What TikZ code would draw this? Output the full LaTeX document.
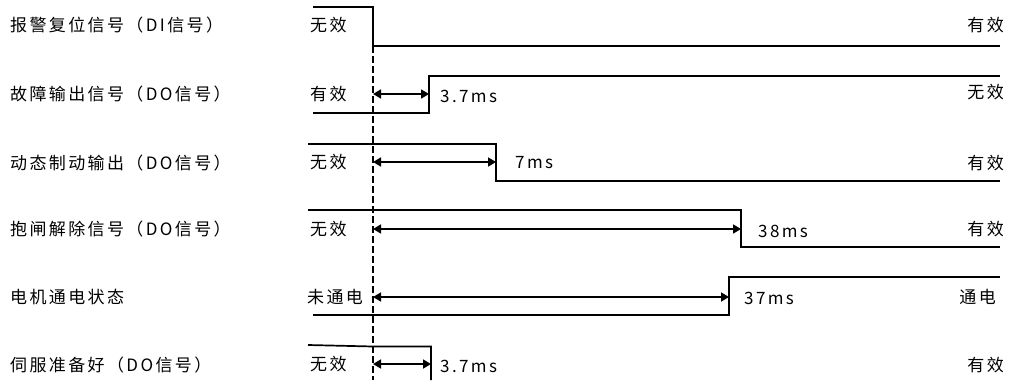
\documentclass[tikz,border=0pt]{standalone}
\usepackage{fontspec}
\setmainfont{Noto Sans CJK SC}
\usetikzlibrary{arrows.meta}
\begin{document}
\begin{tikzpicture}[x=1pt,y=-1pt,
  sig/.style={line width=1.7pt,line join=miter},
  dim/.style={line width=1.7pt,{Triangle[length=8pt,width=9pt]}-{Triangle[length=8pt,width=9pt]}},
  lbl/.style={font=\fontsize{17}{19}\selectfont\addfontfeature{LetterSpace=14},inner sep=0pt},
  st/.style={font=\fontsize{17}{19}\selectfont\addfontfeature{LetterSpace=14},inner sep=0pt},
  ms/.style={font=\fontsize{17}{19}\selectfont\addfontfeature{LetterSpace=14},inner sep=0pt,anchor=west}]
\useasboundingbox (0,0) rectangle (1011,380);
% left labels
\node[lbl,anchor=west] (l1) at (10,25) {报警复位信号（DI信号）};
\node[lbl,anchor=west] (l2) at (10,94) {故障输出信号（DO信号）};
\node[lbl,anchor=west] (l3) at (10,163) {动态制动输出（DO信号）};
\node[lbl,anchor=west] (l4) at (10,229) {抱闸解除信号（DO信号）};
\node[lbl,anchor=west] (l5) at (10,297) {电机通电状态};
\node[lbl,anchor=west] (l6) at (10,365) {伺服准备好（DO信号）};
% state labels left
\node[st,anchor=west] (s1) at (310,25) {无效};
\node[st,anchor=west] (s2) at (310,94) {有效};
\node[st,anchor=west] (s3) at (310,162) {无效};
\node[st,anchor=west] (s4) at (310,229) {无效};
\node[st,anchor=west] (s5) at (307,297) {未通电};
\node[st,anchor=west] (s6) at (310,364) {无效};
% state labels right
\node[st,anchor=east] (r1) at (1004,25) {有效};
\node[st,anchor=east] (r2) at (1004,92) {无效};
\node[st,anchor=east] (r3) at (1004,163) {有效};
\node[st,anchor=east] (r4) at (1004,229) {有效};
\node[st,anchor=east] (r5) at (996,297) {通电};
\node[st,anchor=east] (r6) at (1004,365) {有效};
% waveforms
\draw[sig] (313,7) -- (373,7) -- (373,46) -- (1000,46);
\draw[sig] (313,113) -- (429,113) -- (429,76) -- (1000,76);
\draw[sig] (308,144) -- (496,144) -- (496,181) -- (1000,181);
\draw[sig] (308,210) -- (741,210) -- (741,247) -- (1000,247);
\draw[sig] (313,315) -- (729,315) -- (729,277) -- (1000,277);
\draw[sig] (308,345) -- (373,346.5) -- (431,346.5) -- (431,380);
% reference dashed line
\coordinate (d0) at (373,46);
\coordinate (d1) at (373,380);
\draw[line width=2pt,dash pattern=on 6.5pt off 3.5pt] (d0) -- (d1);
% dimension arrows
\coordinate (a2) at (373,94);  \coordinate (b2) at (429,94);
\coordinate (a3) at (373,162); \coordinate (b3) at (496,162);
\coordinate (a4) at (373,229); \coordinate (b4) at (741,229);
\coordinate (a5) at (373,297); \coordinate (b5) at (729,297);
\coordinate (a6) at (373,364); \coordinate (b6) at (431,364);
\draw[dim] (a2) -- (b2);
\draw[dim] (a3) -- (b3);
\draw[dim] (a4) -- (b4);
\draw[dim] (a5) -- (b5);
\draw[dim] (a6) -- (b6);
\node[ms] (t2) at (440,96) {3.7ms};
\node[ms] (t3) at (515,163) {7ms};
\node[ms] (t4) at (758,231) {38ms};
\node[ms] (t5) at (744,298) {37ms};
\node[ms] (t6) at (440,366) {3.7ms};
\end{tikzpicture}
\end{document}
